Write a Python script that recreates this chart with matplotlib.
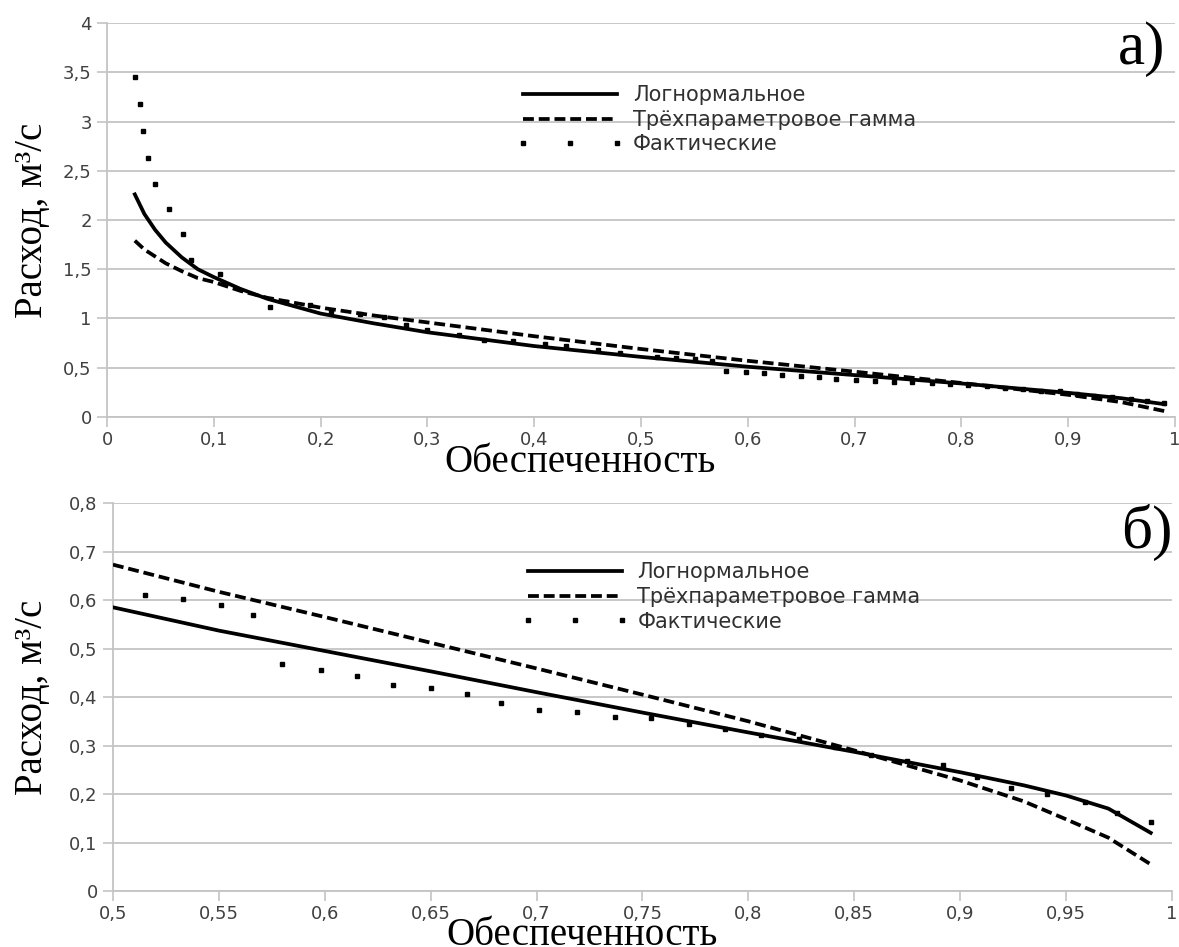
import matplotlib
matplotlib.use("Agg")
import matplotlib.pyplot as plt

# --- data ---
# fitted curves, panel a
fit_x_a = [0.026, 0.035, 0.045, 0.055, 0.07, 0.085, 0.1, 0.125, 0.15, 0.18, 0.2, 0.25,
           0.3, 0.4, 0.5, 0.6, 0.7, 0.8, 0.9, 0.95, 0.99]
lognorm_a = [2.26, 2.06, 1.90, 1.77, 1.62, 1.50, 1.42, 1.30, 1.20, 1.11, 1.05, 0.95,
             0.86, 0.72, 0.61, 0.51, 0.425, 0.34, 0.245, 0.19, 0.13]
gamma_a = [1.79, 1.70, 1.63, 1.56, 1.48, 1.41, 1.37, 1.28, 1.21, 1.15, 1.11, 1.03,
           0.96, 0.82, 0.69, 0.57, 0.46, 0.345, 0.225, 0.15, 0.06]

# fitted curves, panel б
fit_x_b = [0.5, 0.55, 0.6, 0.65, 0.7, 0.75, 0.8, 0.85, 0.9, 0.93, 0.95, 0.97, 0.99]
lognorm_b = [0.585, 0.537, 0.495, 0.453, 0.41, 0.368, 0.327, 0.287, 0.245, 0.218, 0.197, 0.170, 0.12]
gamma_b = [0.673, 0.617, 0.565, 0.512, 0.459, 0.405, 0.35, 0.29, 0.228, 0.185, 0.148, 0.11, 0.055]

# observed values (Фактические)
obs_x = [0.026, 0.031, 0.034, 0.038, 0.045, 0.058, 0.071, 0.079, 0.106, 0.109, 0.153, 0.168,
         0.19, 0.21, 0.237, 0.259, 0.28, 0.30, 0.33, 0.353, 0.38, 0.41, 0.43, 0.46, 0.48,
         0.515, 0.533, 0.551, 0.566, 0.580, 0.598, 0.615, 0.632, 0.650, 0.667, 0.683, 0.701,
         0.719, 0.737, 0.754, 0.772, 0.789, 0.806, 0.824, 0.841, 0.858, 0.875, 0.892, 0.908,
         0.924, 0.941, 0.959, 0.974, 0.990]
obs_y = [3.45, 3.18, 2.90, 2.63, 2.37, 2.11, 1.86, 1.59, 1.45, 1.36, 1.12, 1.17,
         1.14, 1.08, 1.05, 1.01, 0.93, 0.88, 0.83, 0.78, 0.77, 0.74, 0.72, 0.68, 0.65,
         0.610, 0.602, 0.590, 0.569, 0.469, 0.456, 0.444, 0.425, 0.419, 0.406, 0.387, 0.374,
         0.370, 0.359, 0.356, 0.345, 0.335, 0.322, 0.313, 0.298, 0.280, 0.268, 0.260, 0.235,
         0.212, 0.200, 0.184, 0.160, 0.143]

names = ["Логнормальное", "Трёхпараметровое гамма", "Фактические"]

xticks_a = [0, 0.1, 0.2, 0.3, 0.4, 0.5, 0.6, 0.7, 0.8, 0.9, 1]
xlabels_a = ["0", "0,1", "0,2", "0,3", "0,4", "0,5", "0,6", "0,7", "0,8", "0,9", "1"]
yticks_a = [0, 0.5, 1, 1.5, 2, 2.5, 3, 3.5, 4]
ylabels_a = ["0", "0,5", "1", "1,5", "2", "2,5", "3", "3,5", "4"]

xticks_b = [0.5, 0.55, 0.6, 0.65, 0.7, 0.75, 0.8, 0.85, 0.9, 0.95, 1]
xlabels_b = ["0,5", "0,55", "0,6", "0,65", "0,7", "0,75", "0,8", "0,85", "0,9", "0,95", "1"]
yticks_b = [0, 0.1, 0.2, 0.3, 0.4, 0.5, 0.6, 0.7, 0.8]
ylabels_b = ["0", "0,1", "0,2", "0,3", "0,4", "0,5", "0,6", "0,7", "0,8"]

serif = "Liberation Serif"
sans = "DejaVu Sans"
grid_c = "#c4c4c4"
tick_c = "#404040"

fig = plt.figure(figsize=(11.79, 9.47), dpi=100)
ax1 = fig.add_axes([0.0908, 0.5597, 0.9058, 0.416])
ax2 = fig.add_axes([0.0958, 0.0591, 0.8982, 0.4097])


def draw(ax, fx, ln, gm, xt, xl, yt, yl, xlim, ylim, tag, tag_pos, leg_anchor, xlab_y, ylab_x):
    ax.plot(fx, ln, color="black", lw=2.7, label=names[0], zorder=3)
    ax.plot(fx, gm, color="black", lw=2.7, linestyle=(0, (2.9, 1.3)), label=names[1], zorder=3)
    ax.plot(obs_x, obs_y, linestyle="none", marker="s", ms=3.4, color="black",
            label=names[2], zorder=4)
    ax.set_xlim(*xlim)
    ax.set_ylim(*ylim)
    ax.set_xticks(xt)
    ax.set_xticklabels(xl)
    ax.set_yticks(yt)
    ax.set_yticklabels(yl)
    for lab in ax.get_xticklabels() + ax.get_yticklabels():
        lab.set_fontfamily(sans)
        lab.set_fontsize(13)
        lab.set_color(tick_c)
    ax.tick_params(axis="both", colors=grid_c, labelcolor=tick_c, length=7, width=1.2)
    ax.tick_params(axis="y", pad=4)
    ax.tick_params(axis="x", pad=3)
    ax.yaxis.grid(True, color=grid_c, lw=1.3)
    ax.set_axisbelow(True)
    for s in ["top", "right"]:
        ax.spines[s].set_visible(False)
    for s in ["left", "bottom"]:
        ax.spines[s].set_color(grid_c)
        ax.spines[s].set_linewidth(1.3)
    xl_ = ax.set_xlabel("Обеспеченность", fontfamily=serif, fontsize=28)
    xl_.set_va("baseline")
    ax.xaxis.set_label_coords(0.443, xlab_y)
    yl_ = ax.set_ylabel("Расход, м³/с", fontfamily=serif, fontsize=28)
    yl_.set_va("center")
    ax.yaxis.set_label_coords(ylab_x, 0.5)
    ax.text(tag_pos[0], tag_pos[1], tag, transform=ax.transAxes, fontfamily=serif,
            fontsize=44, ha="center", va="center")
    leg = ax.legend(loc="upper left", bbox_to_anchor=leg_anchor, frameon=False,
                    borderpad=0, borderaxespad=0,
                    numpoints=3, handlelength=5.1, handletextpad=0.45, labelspacing=0.22,
                    prop={"family": sans, "size": 15})
    for t in leg.get_texts():
        t.set_color("#303030")


draw(ax1, fit_x_a, lognorm_a, gamma_a, xticks_a, xlabels_a, yticks_a, ylabels_a,
     (0, 1), (0, 4), "а)", (0.969, 0.935), (0.384, 0.842), -0.139, -0.07)
draw(ax2, fit_x_b, lognorm_b, gamma_b, xticks_b, xlabels_b, yticks_b, ylabels_b,
     (0.5, 1), (0, 0.8), "б)", (0.976, 0.925), (0.386, 0.847), -0.14, -0.076)

fig.savefig("out.png", dpi=100)
